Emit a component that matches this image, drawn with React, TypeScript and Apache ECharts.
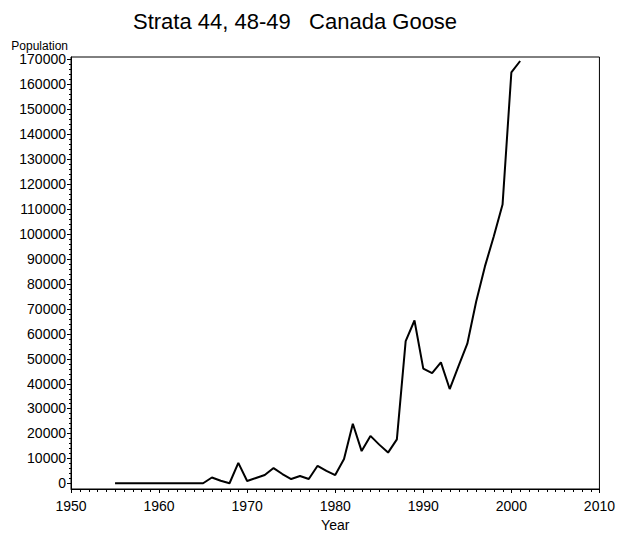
import React, { useEffect, useRef } from "react";
import * as echarts from "echarts";

const years: number[] = [
  1955, 1956, 1957, 1958, 1959, 1960, 1961, 1962, 1963, 1964, 1965,
  1966, 1967, 1968, 1969, 1970, 1971, 1972, 1973, 1974, 1975, 1976,
  1977, 1978, 1979, 1980, 1981, 1982, 1983, 1984, 1985, 1986, 1987,
  1988, 1989, 1990, 1991, 1992, 1993, 1994, 1995, 1996, 1997, 1998,
  1999, 2000, 2001,
];
const population: number[] = [
  0, 0, 0, 0, 0, 0, 0, 0, 0, 0, 0,
  2300, 1000, 0, 8200, 900, 2100, 3300, 6100, 3700, 1700, 2900,
  1700, 7000, 5000, 3300, 9700, 23900, 12900, 19000, 15500, 12300, 17600,
  57000, 65300, 46000, 44200, 48500, 37800, 47000, 56000, 72800, 87000, 99000,
  111800, 164800, 169400,
];
const yTickValues: number[] = [
  0, 10000, 20000, 30000, 40000, 50000, 60000, 70000, 80000, 90000,
  100000, 110000, 120000, 130000, 140000, 150000, 160000, 170000,
];
const xTickValues: number[] = [1950, 1960, 1970, 1980, 1990, 2000, 2010];
const titleText = "Strata 44, 48-49   Canada Goose";
const yName = "Population";
const xName = "Year";

const FONT = "'Liberation Sans', Arial, Helvetica, sans-serif";

const X_MIN = 1950;
const X_MAX = 2010;
const Y_MIN = -2300;
const Y_MAX = 171000;

export default function App() {
  const ref = useRef<HTMLDivElement>(null);
  useEffect(() => {
    if (!ref.current) return;
    const chart = echarts.init(ref.current, null, { renderer: "svg" });
    // tick marks: [value, length]
    const xTicks: number[][] = [];
    for (let v = X_MIN; v <= X_MAX; v += 1) {
      xTicks.push([v, xTickValues.indexOf(v) >= 0 ? 4 : 3]);
    }
    const yTicks: number[][] = [];
    for (let v = 0; v <= 170000; v += 2000) {
      yTicks.push([v, yTickValues.indexOf(v) >= 0 ? 4 : 2]);
    }
    const plain = (v: number) => String(v);
    chart.setOption({
      animation: false,
      backgroundColor: "#ffffff",
      title: {
        text: titleText,
        left: 133,
        top: 10,
        padding: 0,
        textStyle: { fontFamily: FONT, fontSize: 22, fontWeight: "normal", color: "#000" },
      },
      grid: {
        left: 71,
        right: 16.5,
        top: 57,
        bottom: 51,
        show: true,
        borderColor: "#000",
        borderWidth: 1,
        backgroundColor: "transparent",
      },
      xAxis: {
        type: "value",
        min: X_MIN,
        max: X_MAX,
        name: xName,
        nameLocation: "middle",
        nameGap: 19,
        nameTextStyle: { fontFamily: FONT, fontSize: 14, color: "#000" },
        axisLine: { show: true, onZero: false, lineStyle: { color: "#000", width: 1 } },
        axisTick: { show: false },
        axisLabel: {
          fontFamily: FONT,
          fontSize: 14,
          color: "#000",
          margin: 10,
          customValues: xTickValues,
          formatter: plain,
        },
        splitLine: { show: false },
      },
      yAxis: {
        type: "value",
        min: Y_MIN,
        max: Y_MAX,
        name: yName,
        nameLocation: "end",
        nameGap: 11,
        nameTextStyle: {
          fontFamily: FONT,
          fontSize: 12,
          color: "#000",
          align: "right",
          verticalAlign: "middle",
          padding: [0, 3, 0, 0],
        },
        axisLine: { show: true, onZero: false, lineStyle: { color: "#000", width: 1 } },
        axisTick: { show: false },
        axisLabel: {
          fontFamily: FONT,
          fontSize: 14,
          color: "#000",
          margin: 5,
          customValues: yTickValues,
          formatter: plain,
        },
        splitLine: { show: false },
      },
      series: [
        {
          type: "line",
          data: years.map((y, i) => [y, population[i]]),
          showSymbol: false,
          symbol: "none",
          lineStyle: { color: "#000", width: 2 },
          itemStyle: { color: "#000" },
          z: 3,
        },
        {
          type: "custom",
          clip: false,
          silent: true,
          data: xTicks,
          encode: { x: 0 },
          renderItem: (params: any, api: any) => {
            const v = api.value(0);
            const len = api.value(1);
            const p = api.coord([v, Y_MIN]);
            const x = Math.round(p[0]) + 0.5;
            const y = Math.round(p[1]);
            return {
              type: "line",
              shape: { x1: x, y1: y, x2: x, y2: y + len },
              style: { stroke: "#000", lineWidth: 1 },
            };
          },
          z: 4,
        },
        {
          type: "custom",
          clip: false,
          silent: true,
          data: yTicks,
          encode: { y: 0 },
          renderItem: (params: any, api: any) => {
            const v = api.value(0);
            const len = api.value(1);
            const p = api.coord([X_MIN, v]);
            const x = Math.round(p[0]);
            const y = Math.round(p[1]) + 0.5;
            return {
              type: "line",
              shape: { x1: x - len, y1: y, x2: x, y2: y },
              style: { stroke: "#000", lineWidth: 1 },
            };
          },
          z: 4,
        },
      ],
    });
    return () => chart.dispose();
  }, []);
  return (
    <div
      ref={ref}
      style={{ position: "fixed", left: 0, top: 0, width: 618, height: 540 }}
    />
  );
}
